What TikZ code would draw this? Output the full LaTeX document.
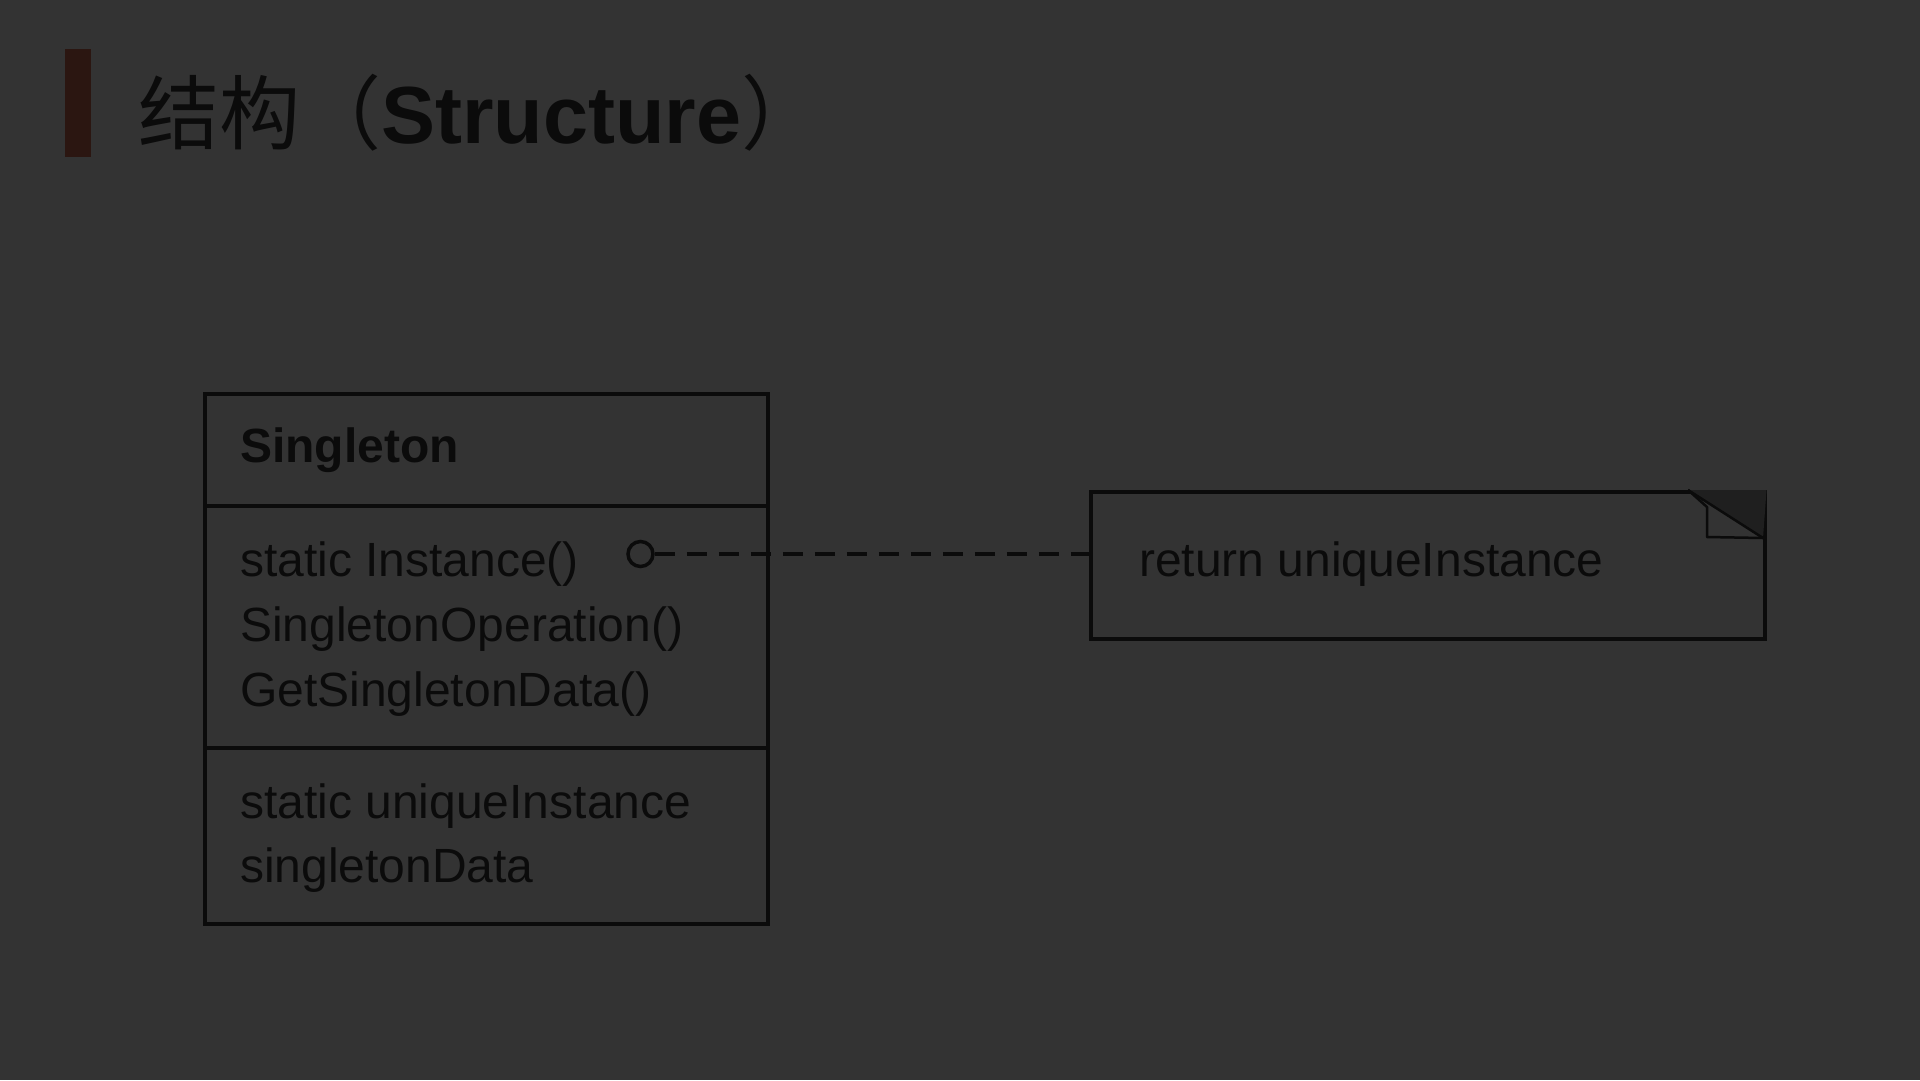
\documentclass[tikz,border=0pt]{standalone}
\usepackage{fontspec}
\setmainfont{Liberation Sans}
\newfontfamily\cjk{Noto Sans CJK SC}
\usetikzlibrary{positioning}
\definecolor{bg}{HTML}{333333}
\definecolor{ink}{HTML}{0B0B0B}
\definecolor{barbrown}{HTML}{2B1611}
\definecolor{earshade}{HTML}{1F1F1F}

\begin{document}
\begin{tikzpicture}
  [x=1pt, y=-1pt,
  compartment/.style={draw=ink, line width=3.5pt, minimum width=563pt, inner sep=0pt, outer sep=0pt},
  member/.style={anchor=base west, inner sep=0pt, text=ink, font=\fontsize{48}{58}\selectfont},
  link/.style={draw=ink, line width=3.5pt, dash pattern=on 20pt off 12pt}]
  \fill[bg] (0,0) rectangle (1920,1080);
  \fill[barbrown] (65,49) rectangle (91,157);
  \node[anchor=base west, inner sep=0pt, text=ink, font=\fontsize{81}{97}\selectfont] (title) at (138,143)
    {{\cjk 结构（}\textbf{Structure}{\cjk ）}};
  \node[compartment, minimum height=112pt, anchor=north west] (cname) at (205,394) {};
  \node[compartment, minimum height=242pt, below=0pt of cname] (cops) {};
  \node[compartment, minimum height=176pt, below=0pt of cops] (cattrs) {};
  \node[member, font=\fontsize{48}{58}\selectfont\bfseries] (name) at (240,462) {Singleton};
  \node[member] (instance) at (240,576) {static Instance()};
  \node[member] (operation) at (240,641) {SingletonOperation()};
  \node[member] (getdata) at (240,706) {GetSingletonData()};
  \node[member] (unique) at (240,818) {static uniqueInstance};
  \node[member] (data) at (240,882) {singletonData};
  \node[draw=ink, line width=3.5pt, circle, minimum size=25pt, inner sep=0pt] (knob) at (640.5,554) {};
  \node[draw=ink, line width=3.5pt, minimum width=674pt, minimum height=147pt, inner sep=0pt, anchor=north west] (note) at (1089,490) {};
  \node[member] (ret) at (1139,576) {return uniqueInstance};
  \fill[earshade] (1688,490) -- (note.north east) -- (1763,538) -- cycle;
  \draw[ink, line width=2.5pt] (1688,490) -- (1763,538);
  \draw[ink, line width=2.5pt, line join=round] (1688,490) -- (1707,507) -- (1707,537) -- (1763,538);
  \draw[link] (knob.east) -- (knob.east -| note.west);
\end{tikzpicture}
\end{document}
